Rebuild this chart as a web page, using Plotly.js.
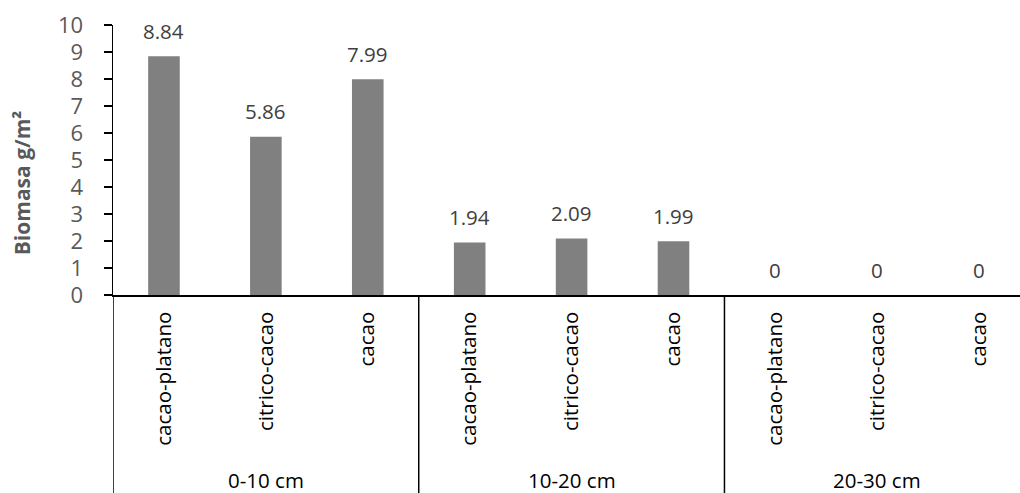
<!DOCTYPE html>
<html>
<head>
<meta charset="utf-8">
<script src="https://cdn.plot.ly/plotly-3.0.1.min.js"></script>
<style>html,body{margin:0;padding:0;background:#fff;overflow:hidden}</style>
</head>
<body>
<div id="chart" style="width:1020px;height:493px"></div>
<script>
const groups = ['0-10 cm', '10-20 cm', '20-30 cm'];
const systems = ['cacao-platano', 'citrico-cacao', 'cacao'];
const values = [8.84, 5.86, 7.99, 1.94, 2.09, 1.99, 0, 0, 0];
const yTicks = [0, 1, 2, 3, 4, 5, 6, 7, 8, 9, 10];

const xs = values.map((v, i) => i);
const tickText = values.map((v, i) => systems[i % systems.length]);
const font = 'Open Sans, sans-serif';

const trace = {
  type: 'bar',
  x: xs,
  y: values,
  width: 0.31,
  marker: {color: '#808080'},
  hoverinfo: 'skip'
};

const annotations = values.map((v, i) => ({
  x: i, y: v, xref: 'x', yref: 'y',
  text: String(v), showarrow: false,
  yanchor: 'middle', yshift: 25.5,
  font: {family: font, size: 20.5, color: '#404040'}
}));

groups.forEach((g, gi) => {
  annotations.push({
    x: gi * systems.length + (systems.length - 1) / 2, xref: 'x',
    y: -0.685, yref: 'paper', yanchor: 'middle',
    text: g, showarrow: false,
    font: {family: font, size: 20.5, color: '#000000'}
  });
});

annotations.push({
  xref: 'paper', yref: 'paper', x: -0.1, y: 0.415,
  xanchor: 'center', yanchor: 'middle', textangle: -90,
  text: '<b>Biomasa g/m²</b>', showarrow: false,
  font: {family: font, size: 21, color: '#595959'}
});

const shapes = [];
for (let gi = 0; gi <= groups.length; gi++) {
  shapes.push({
    type: 'line', xref: 'x', yref: 'paper',
    x0: gi * systems.length - 0.5, x1: gi * systems.length - 0.5,
    y0: 0, y1: -0.75,
    line: {color: '#000000', width: 1.5}
  });
}

const layout = {
  width: 1020, height: 493,
  margin: {l: 112.5, r: 0, t: 24.7, b: 197.5},
  paper_bgcolor: '#ffffff', plot_bgcolor: '#ffffff',
  showlegend: false,
  xaxis: {
    range: [-0.5, 8.40],
    tickmode: 'array', tickvals: xs, ticktext: tickText,
    tickangle: -90, ticks: '', showgrid: false, zeroline: false,
    showline: true, linecolor: '#000000', linewidth: 1.5,
    ticklabelstandoff: 7,
    tickfont: {family: font, size: 20.5, color: '#000000'},
    fixedrange: true
  },
  yaxis: {
    range: [0, 10],
    tickmode: 'array', tickvals: yTicks,
    ticks: 'outside', ticklen: 8, tickcolor: '#000000', tickwidth: 1.5,
    showgrid: false, zeroline: false,
    showline: true, linecolor: '#000000', linewidth: 1.5,
    ticklabelstandoff: 16,
    tickfont: {family: font, size: 22, color: '#595959'},
    fixedrange: true
  },
  annotations: annotations,
  shapes: shapes
};

Plotly.newPlot('chart', [trace], layout, {displayModeBar: false, staticPlot: true});
</script>
</body>
</html>
